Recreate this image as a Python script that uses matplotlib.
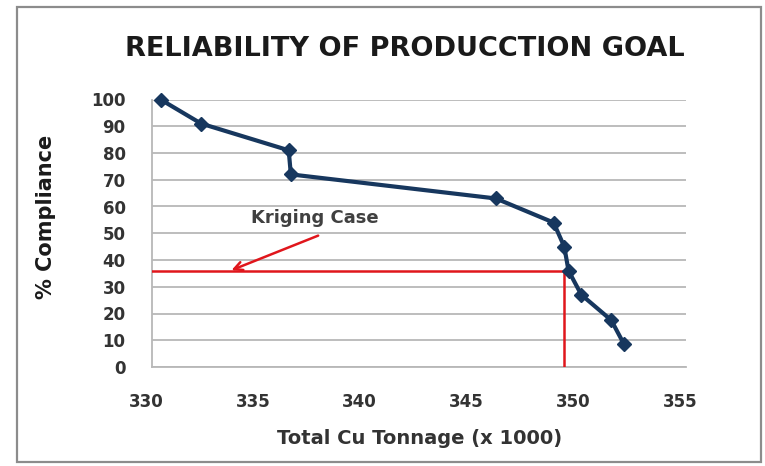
import matplotlib
matplotlib.use("Agg")
import matplotlib.pyplot as plt
from matplotlib.patches import Rectangle
import matplotlib.transforms as mtransforms

# Cumulative compliance curve
tonnage = [330.4, 332.3, 336.4, 336.5, 346.1, 348.8, 349.3, 349.5, 350.1, 351.5, 352.1]
compliance = [100, 91, 81, 72, 63, 54, 45, 36, 27, 17.5, 8.5]

# Kriging case reference
kriging_tonnage = 349.3
kriging_compliance = 35.8

x_ticks = [330, 335, 340, 345, 350, 355]
y_ticks = [0, 10, 20, 30, 40, 50, 60, 70, 80, 90, 100]

FONT = "DejaVu Sans"
NAVY = "#17375E"
RED = "#E0161C"
GRID = "#B8B8B8"

fig = plt.figure(figsize=(7.65, 4.66), dpi=100)
fig.patch.set_facecolor("white")

# outer chart frame
fig.add_artist(Rectangle((17 / 765, 1 - 462 / 466), (761 - 17) / 765, (462 - 7) / 466,
                         transform=fig.transFigure, fill=False,
                         edgecolor="#8C8C8C", linewidth=1.6))

ax = fig.add_axes([152 / 765, 1 - 367 / 466, (686 - 152) / 765, (367 - 99.5) / 466])
ax.set_xlim(330, 355)
ax.set_ylim(0, 100)
ax.set_xticks(x_ticks)
ax.set_yticks(y_ticks)
ax.yaxis.grid(True, color=GRID, linewidth=1.3)
ax.xaxis.grid(False)
ax.set_axisbelow(True)
for side in ("top", "right"):
    ax.spines[side].set_visible(False)
for side in ("left", "bottom"):
    ax.spines[side].set_color(GRID)
    ax.spines[side].set_linewidth(1.3)
ax.tick_params(axis="both", length=0)
ax.tick_params(axis="x", pad=19)
ax.tick_params(axis="y", pad=19)
for lab in ax.get_xticklabels() + ax.get_yticklabels():
    lab.set_fontfamily(FONT)
    lab.set_fontweight("bold")
    lab.set_fontsize(12)
    lab.set_color("#333333")
shift = mtransforms.ScaledTranslation(-6 / 100, 0, fig.dpi_scale_trans)
for lab in ax.get_xticklabels():
    lab.set_transform(lab.get_transform() + shift)

# Kriging case markers
ax.plot([330, kriging_tonnage], [kriging_compliance, kriging_compliance],
        color=RED, linewidth=1.8, zorder=3)
ax.plot([kriging_tonnage, kriging_tonnage], [0, kriging_compliance],
        color=RED, linewidth=1.8, zorder=3)

ax.plot(tonnage, compliance, color=NAVY, linewidth=3, marker="D",
        markersize=7.5, markerfacecolor=NAVY, markeredgecolor=NAVY,
        zorder=4, clip_on=False)

ax.annotate("", xy=(333.6, kriging_compliance), xytext=(337.9, 49.5),
            arrowprops=dict(arrowstyle="->,head_length=0.6,head_width=0.3",
                            color=RED, linewidth=1.8))
ax.text(337.6, 55.6, "Kriging Case", ha="center", va="center",
        fontfamily=FONT, fontsize=13, fontweight="bold", color="#404040")

fig.text(405 / 765, 1 - 49 / 466, "RELIABILITY OF PRODUCCTION GOAL",
         ha="center", va="center", fontfamily=FONT, fontweight="bold",
         fontsize=19.5, color="#1A1A1A")
fig.text(46 / 765, 1 - 217 / 466, "% Compliance", rotation=90,
         ha="center", va="center", fontfamily=FONT, fontweight="bold",
         fontsize=15, color="#1A1A1A")
fig.text(420 / 765, 1 - 438 / 466, "Total Cu Tonnage (x 1000)",
         ha="center", va="center", fontfamily=FONT, fontweight="bold",
         fontsize=14, color="#333333")

fig.savefig("out.png", dpi=100, facecolor="white")
